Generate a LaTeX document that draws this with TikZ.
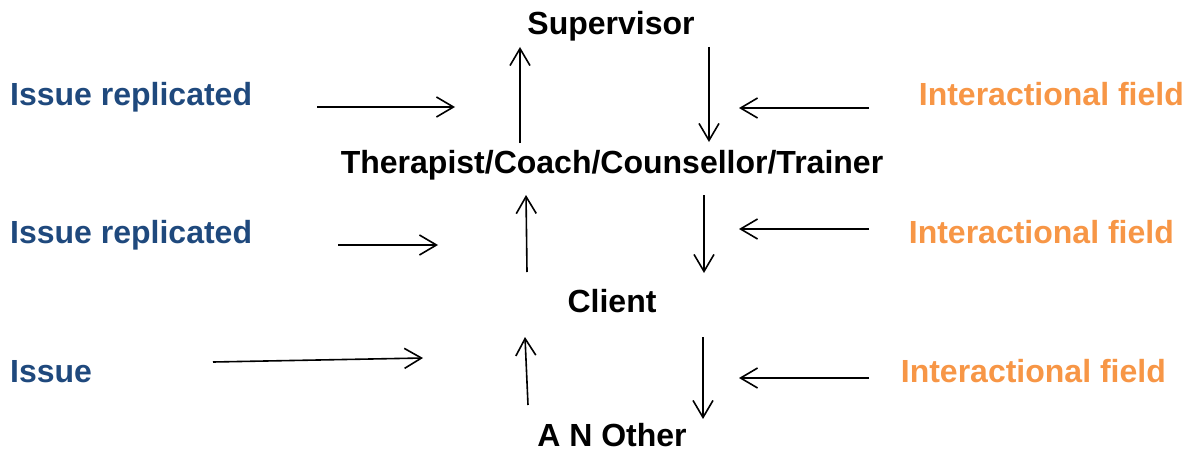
\documentclass[tikz,border=0pt]{standalone}
\usepackage{fontspec}
\setmainfont{Liberation Sans}
\usetikzlibrary{arrows.meta,positioning}
\definecolor{issueblue}{RGB}{31,73,125}
\definecolor{fieldorange}{RGB}{247,150,70}

\begin{document}
\begin{tikzpicture}[
    x=1pt, y=-1pt,
    role/.style={font=\fontsize{32}{38}\selectfont\bfseries, text=black, anchor=base, inner sep=0pt},
    issue/.style={font=\fontsize{32}{38}\selectfont\bfseries, text=issueblue, anchor=base west, inner sep=0pt},
    field/.style={font=\fontsize{32}{38}\selectfont\bfseries, text=fieldorange, anchor=base east, inner sep=0pt},
    flow/.style={-{Straight Barb[length=17pt,width=20pt,line width=1.6pt]}, line width=1.6pt, black}
]
\useasboundingbox (0,0) rectangle (1190,452);

% Roles down the middle
\node[role] (supervisor) at (611,35) {Supervisor};
\node[role] (therapist) at (612,173) {Therapist/Coach/Counsellor/Trainer};
\node[role] (client) at (612,312) {Client};
\node[role] (other) at (612,446) {A N Other};

% Left column (issues)
\node[issue] (issue1) at (10,105) {Issue replicated};
\node[issue] (issue2) at (10,243) {Issue replicated};
\node[issue] (issue3) at (10,382) {Issue};

% Right column (interactional fields)
\node[field] (field1) at (1184,105) {Interactional field};
\node[field] (field2) at (1174,243) {Interactional field};
\node[field] (field3) at (1166,382) {Interactional field};

% Arrow end points
\coordinate (i1s) at (317,107); \coordinate (i1e) at (455,107);
\coordinate (i2s) at (338,245); \coordinate (i2e) at (438,245);
\coordinate (i3s) at (213,362); \coordinate (i3e) at (423,358);
\coordinate (u1s) at (520,143); \coordinate (u1e) at (520,47);
\coordinate (u2s) at (527,272); \coordinate (u2e) at (526,195);
\coordinate (u3s) at (528,405); \coordinate (u3e) at (525,337);
\coordinate (d1s) at (709,47);  \coordinate (d1e) at (709,142);
\coordinate (d2s) at (704,195); \coordinate (d2e) at (704,273);
\coordinate (d3s) at (703,337); \coordinate (d3e) at (703,419);
\coordinate (f1s) at (869,108); \coordinate (f1e) at (739,108);
\coordinate (f2s) at (869,229); \coordinate (f2e) at (739,229);
\coordinate (f3s) at (869,378); \coordinate (f3e) at (739,378);

% Issues pushed in from the left
\draw[flow] (i1s) -- (i1e);
\draw[flow] (i2s) -- (i2e);
\draw[flow] (i3s) -- (i3e);

% Upward (parallel process)
\draw[flow] (u1s) -- (u1e);
\draw[flow] (u2s) -- (u2e);
\draw[flow] (u3s) -- (u3e);

% Downward
\draw[flow] (d1s) -- (d1e);
\draw[flow] (d2s) -- (d2e);
\draw[flow] (d3s) -- (d3e);

% Fields pushed in from the right
\draw[flow] (f1s) -- (f1e);
\draw[flow] (f2s) -- (f2e);
\draw[flow] (f3s) -- (f3e);
\end{tikzpicture}
\end{document}
